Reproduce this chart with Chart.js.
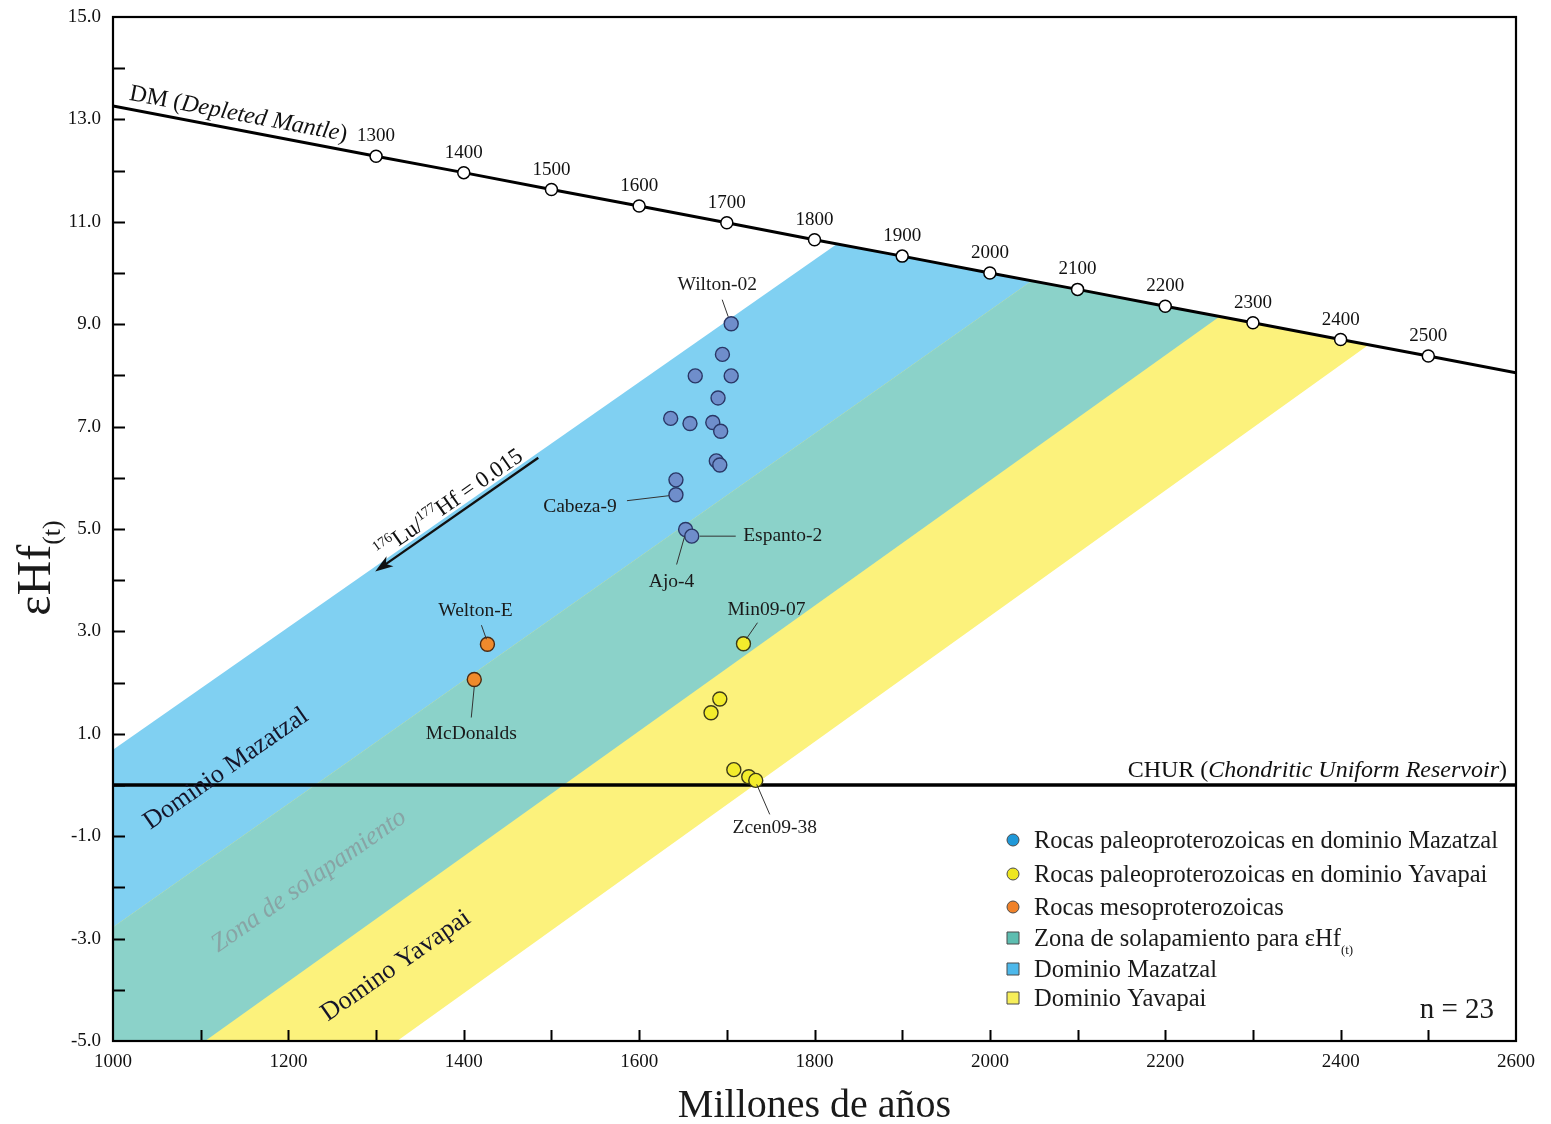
<!DOCTYPE html>
<html>
<head>
<meta charset="utf-8">
<script src="https://cdn.jsdelivr.net/npm/chart.js@4.4.1/dist/chart.umd.min.js"></script>
<style>
  html, body { margin: 0; padding: 0; background: #ffffff; }
  #wrap { width: 1551px; height: 1124px; position: relative; }
</style>
</head>
<body>
<div id="wrap"><canvas id="c" width="1551" height="1124"></canvas></div>
<script>
// ---- Samples: age (Ma) and εHf(t) ----
const mazatzalAges = [1705, 1695, 1664, 1705, 1690, 1636, 1658, 1684, 1693, 1688, 1692, 1642, 1642, 1653, 1660];
const mazatzalEhf  = [9.01, 8.41, 7.99, 7.99, 7.56, 7.16, 7.06, 7.08, 6.91, 6.33, 6.25, 5.96, 5.67, 4.99, 4.86];
const yavapaiAges  = [1719, 1692, 1682, 1708, 1725, 1733];
const yavapaiEhf   = [2.76, 1.68, 1.41, 0.30, 0.16, 0.09];
const mesoAges     = [1427, 1412];
const mesoEhf      = [2.75, 2.06];

// Named samples: name, group, index in that group
const labeledSamples = ['Wilton-02', 'Cabeza-9', 'Ajo-4', 'Espanto-2', 'Welton-E', 'McDonalds', 'Min09-07', 'Zcen09-38'];
const labeledGroup   = ['maz', 'maz', 'maz', 'maz', 'meso', 'meso', 'yav', 'yav'];
const labeledIndex   = [0, 12, 13, 14, 0, 1, 0, 5];

// ---- Depleted mantle evolution curve ----
const dmAges = [1000, 1300, 1400, 1500, 1600, 1700, 1800, 1900, 2000, 2100, 2200, 2300, 2400, 2500, 2600];
const dmEhf  = [13.26, 12.28, 11.96, 11.63, 11.31, 10.98, 10.65, 10.33, 10.00, 9.68, 9.35, 9.03, 8.70, 8.38, 8.05];
const dmMarkedAges = [1300, 1400, 1500, 1600, 1700, 1800, 1900, 2000, 2100, 2200, 2300, 2400, 2500];

// ---- CHUR reference ----
const churAges = [1000, 2600];
const churEhf  = [0, 0];

// ---- Crustal evolution bands (176Lu/177Hf = 0.015) ----
const mazatzalBandAges = [1000, 1826, 2262, 1105, 1000];
const mazatzalBandEhf  = [0.69, 10.57, 9.15, -5, -5];
const yavapaiBandAges  = [1000, 2048, 2432, 1324, 1000];
const yavapaiBandEhf   = [-2.78, 9.85, 8.60, -5, -5];
const overlapBandAges  = [1000, 2048, 2262, 1105, 1000];
const overlapBandEhf   = [-2.78, 9.85, 9.15, -5, -5];

// Evolution-trend arrow (tail, head)
const arrowAges = [1485, 1299];
const arrowEhf  = [6.39, 4.17];

// ---- Axis ticks ----
const xTickLabels = [1000, 1200, 1400, 1600, 1800, 2000, 2200, 2400, 2600];
const xMinorTicks = [1100, 1200, 1300, 1400, 1500, 1600, 1700, 1800, 1900, 2000, 2100, 2200, 2300, 2400, 2500];
const yTickLabels = [-5, -3, -1, 1, 3, 5, 7, 9, 11, 13, 15];
const yMinorTicks = [-4, -3, -2, -1, 0, 1, 2, 3, 4, 5, 6, 7, 8, 9, 10, 11, 12, 13, 14];

const sampleCount = 23;

// ---- helpers ----
const zip = (xs, ys) => xs.map((x, i) => ({ x, y: ys[i] }));
const SERIF = '"Liberation Serif", "Times New Roman", "DejaVu Serif", serif';
const fontOf = r => (r.italic ? 'italic ' : '') + r.size + 'px ' + SERIF;

function runsWidth(ctx, runs) {
  let w = 0;
  for (const r of runs) { ctx.font = fontOf(r); w += ctx.measureText(r.t).width; }
  return w;
}
function drawRuns(ctx, runs, x, y, align) {
  const w = runsWidth(ctx, runs);
  let cx = align === 'center' ? x - w / 2 : align === 'right' ? x - w : x;
  ctx.textAlign = 'left';
  ctx.textBaseline = 'alphabetic';
  for (const r of runs) {
    ctx.font = fontOf(r);
    ctx.fillText(r.t, cx, y + (r.dy || 0));
    cx += ctx.measureText(r.t).width;
  }
}

// Label placement for named samples (pixel offsets from the symbol)
const sampleLabelLayout = {
  'Wilton-02': { text: [-14, -39], from: [-9, -24], to: [-3, -7] },
  'Cabeza-9':  { text: [-96, 12],  from: [-49, 6],  to: [-7, 1] },
  'Espanto-2': { text: [91, 0],    from: [8, 0],    to: [44, 0] },
  'Ajo-4':     { text: [-14, 52],  from: [-9, 35],  to: [-1, 7] },
  'Welton-E':  { text: [-12, -33], from: [-6, -19], to: [-1, -5] },
  'Min09-07':  { text: [23, -34],  from: [14, -21], to: [3, -5] },
  'McDonalds': { text: [-3, 54],   from: [-3, 38],  to: [0, 7] },
  'Zcen09-38': { text: [19, 47],   from: [14, 34],  to: [1, 4] }
};

const groupData = {
  maz: [mazatzalAges, mazatzalEhf],
  yav: [yavapaiAges, yavapaiEhf],
  meso: [mesoAges, mesoEhf]
};

const decor = {
  id: 'decor',
  afterDatasetsDraw(chart) {
    const ctx = chart.ctx;
    const xs = chart.scales.x, ys = chart.scales.y;
    const a = chart.chartArea;
    const X = v => xs.getPixelForValue(v);
    const Y = v => ys.getPixelForValue(v);
    ctx.save();
    ctx.fillStyle = '#111';
    ctx.strokeStyle = '#111';

    // DM age labels
    ctx.font = '19px ' + SERIF;
    ctx.textAlign = 'center';
    ctx.textBaseline = 'middle';
    dmMarkedAges.forEach(t => {
      const i = dmAges.indexOf(t);
      ctx.fillText(String(t), X(t), Y(dmEhf[i]) - 20);
    });

    // DM curve title, along the curve
    {
      const x0 = X(dmAges[0]), y0 = Y(dmEhf[0]);
      const x1 = X(dmAges[dmAges.length - 1]), y1 = Y(dmEhf[dmEhf.length - 1]);
      const ang = Math.atan2(y1 - y0, x1 - x0);
      ctx.save();
      ctx.translate(x0, y0);
      ctx.rotate(ang);
      drawRuns(ctx, [
        { t: 'DM (', size: 24 },
        { t: 'Depleted Mantle', size: 24, italic: true },
        { t: ')', size: 24 }
      ], 14, -9, 'left');
      ctx.restore();
    }

    // CHUR title
    drawRuns(ctx, [
      { t: 'CHUR (', size: 24 },
      { t: 'Chondritic Uniform Reservoir', size: 24, italic: true },
      { t: ')', size: 24 }
    ], a.right - 9, Y(0) - 8, 'right');

    // Lu/Hf trend arrow
    {
      const tx = X(arrowAges[0]), ty = Y(arrowEhf[0]);
      const hx = X(arrowAges[1]), hy = Y(arrowEhf[1]);
      const ang = Math.atan2(hy - ty, hx - tx);
      const len = Math.hypot(hx - tx, hy - ty);
      ctx.save();
      ctx.translate(tx, ty);
      ctx.rotate(ang);
      ctx.lineWidth = 2.4;
      ctx.beginPath();
      ctx.moveTo(0, 0);
      ctx.lineTo(len - 12, 0);
      ctx.stroke();
      ctx.beginPath();
      ctx.moveTo(len, 0);
      ctx.lineTo(len - 18, -6);
      ctx.lineTo(len - 13, 0);
      ctx.lineTo(len - 18, 6);
      ctx.closePath();
      ctx.fill();
      ctx.restore();

      // label above the arrow, reading upward
      ctx.save();
      ctx.translate((tx + hx) / 2, (ty + hy) / 2);
      ctx.rotate(ang + Math.PI);
      drawRuns(ctx, [
        { t: '176', size: 14, dy: -9 },
        { t: 'Lu/', size: 23 },
        { t: '177', size: 14, dy: -9 },
        { t: 'Hf = 0.015', size: 23 }
      ], 0, -7, 'center');
      ctx.restore();
    }

    // Band names, rotated along the bands
    {
      const bx0 = X(arrowAges[1]), by0 = Y(arrowEhf[1]);
      const bx1 = X(arrowAges[0]), by1 = Y(arrowEhf[0]);
      const ang = Math.atan2(by1 - by0, bx1 - bx0);
      const bandText = (txt, cx, cy, opts) => {
        ctx.save();
        ctx.translate(cx, cy);
        ctx.rotate(ang);
        ctx.fillStyle = opts.color;
        ctx.font = (opts.italic ? 'italic ' : '') + opts.size + 'px ' + SERIF;
        ctx.textAlign = 'center';
        ctx.textBaseline = 'middle';
        ctx.fillText(txt, 0, 0);
        ctx.restore();
      };
      bandText('Dominio Mazatzal', 226, 769, { size: 26, color: '#15152a' });
      bandText('Zona de solapamiento', 309, 881, { size: 26, italic: true, color: 'rgba(135,148,152,0.75)' });
      bandText('Domino Yavapai', 396, 966, { size: 26, color: '#15152a' });
    }

    // Named samples with leader lines
    ctx.font = '19.5px ' + SERIF;
    ctx.textAlign = 'center';
    ctx.textBaseline = 'middle';
    ctx.lineWidth = 1;
    labeledSamples.forEach((name, k) => {
      const [ages, vals] = groupData[labeledGroup[k]];
      const px = X(ages[labeledIndex[k]]), py = Y(vals[labeledIndex[k]]);
      const L = sampleLabelLayout[name];
      ctx.strokeStyle = '#333';
      ctx.beginPath();
      ctx.moveTo(px + L.from[0], py + L.from[1]);
      ctx.lineTo(px + L.to[0], py + L.to[1]);
      ctx.stroke();
      ctx.fillStyle = '#1a1a1a';
      ctx.fillText(name, px + L.text[0], py + L.text[1]);
    });

    // Inward tick marks
    ctx.strokeStyle = '#000';
    ctx.lineWidth = 2;
    ctx.beginPath();
    yMinorTicks.forEach(v => { const y = Math.round(Y(v)) + 0.5; ctx.moveTo(a.left, y); ctx.lineTo(a.left + 12, y); });
    xMinorTicks.forEach(v => { const x = Math.round(X(v)) + 0.5; ctx.moveTo(x, a.bottom); ctx.lineTo(x, a.bottom - 11); });
    ctx.stroke();

    // Frame
    ctx.lineWidth = 2.2;
    ctx.strokeRect(a.left, a.top, a.right - a.left, a.bottom - a.top);

    // Legend
    const lgX = 1013, lgTx = 1034;
    const lgRows = [840, 874, 907, 938, 969, 998];
    const LG = 24.5;
    const lgItems = [
      { kind: 'circle', fill: '#1f98d8', runs: [{ t: 'Rocas paleoproterozoicas en dominio Mazatzal', size: LG }] },
      { kind: 'circle', fill: '#eee620', runs: [{ t: 'Rocas paleoproterozoicas en dominio Yavapai', size: LG }] },
      { kind: 'circle', fill: '#f0822a', runs: [{ t: 'Rocas mesoproterozoicas', size: LG }] },
      { kind: 'square', fill: '#5dbdb0', runs: [{ t: 'Zona de solapamiento para εHf', size: LG }, { t: '(t)', size: 13, dy: 8 }] },
      { kind: 'square', fill: '#4db8ea', runs: [{ t: 'Dominio Mazatzal', size: LG }] },
      { kind: 'square', fill: '#f6ee5a', runs: [{ t: 'Dominio Yavapai', size: LG }] }
    ];
    lgItems.forEach((it, i) => {
      const cy = lgRows[i];
      ctx.fillStyle = it.fill;
      ctx.strokeStyle = '#4a4a4a';
      ctx.lineWidth = 1;
      ctx.beginPath();
      if (it.kind === 'circle') ctx.arc(lgX, cy, 6, 0, Math.PI * 2);
      else ctx.rect(lgX - 6, cy - 6, 12, 12);
      ctx.fill();
      ctx.stroke();
      ctx.fillStyle = '#1a1a1a';
      drawRuns(ctx, it.runs, lgTx, cy + 8, 'left');
    });
    ctx.fillStyle = '#1a1a1a';
    drawRuns(ctx, [{ t: 'n = ' + sampleCount, size: 29 }], 1494, 1018, 'right');

    // Axis titles
    drawRuns(ctx, [{ t: 'Millones de años', size: 40 }], (a.left + a.right) / 2, 1117, 'center');
    ctx.save();
    ctx.translate(50, 568);
    ctx.rotate(-Math.PI / 2);
    drawRuns(ctx, [{ t: 'εHf', size: 48 }, { t: '(t)', size: 26, dy: 10 }], 0, 0, 'center');
    ctx.restore();

    ctx.restore();
  }
};

const pointStyle = (fill, border) => ({
  pointRadius: 7, pointHoverRadius: 7, pointBackgroundColor: fill,
  pointBorderColor: border, pointBorderWidth: 1.4, showLine: false
});

// Axes keep a fixed size so the plotting frame stays put
const fixY = s => { s.width = 113; s.paddingTop = 0; s.paddingBottom = 0; };
const fixX = s => { s.height = 83; s.paddingLeft = 0; s.paddingRight = 0; };

new Chart(document.getElementById('c'), {
  type: 'scatter',
  data: {
    datasets: [
      { label: 'Rocas paleoproterozoicas en dominio Mazatzal', data: zip(mazatzalAges, mazatzalEhf), order: 0, ...pointStyle('#6f8ecb', '#2a3766') },
      { label: 'Rocas paleoproterozoicas en dominio Yavapai', data: zip(yavapaiAges, yavapaiEhf), order: 0, ...pointStyle('#f3ec2c', '#3c3a18') },
      { label: 'Rocas mesoproterozoicas', data: zip(mesoAges, mesoEhf), order: 0, ...pointStyle('#f08a2c', '#4a2a12') },
      { label: 'DM', data: zip(dmAges, dmEhf), order: 1, showLine: true, borderColor: '#000', borderWidth: 3,
        pointRadius: c => (c.dataIndex === 0 || c.dataIndex === dmAges.length - 1) ? 0 : 6,
        pointBackgroundColor: '#fff', pointBorderColor: '#000', pointBorderWidth: 1.5, fill: false },
      { label: 'CHUR', data: zip(churAges, churEhf), order: 1, showLine: true, borderColor: '#000', borderWidth: 3.4, pointRadius: 0, fill: false },
      { label: 'Zona de solapamiento', data: zip(overlapBandAges, overlapBandEhf), order: 2, showLine: true, borderWidth: 0, borderColor: 'rgba(0,0,0,0)', pointRadius: 0, fill: 'shape', backgroundColor: '#8bd2c9' },
      { label: 'Dominio Yavapai', data: zip(yavapaiBandAges, yavapaiBandEhf), order: 3, showLine: true, borderWidth: 0, borderColor: 'rgba(0,0,0,0)', pointRadius: 0, fill: 'shape', backgroundColor: '#fcf27c' },
      { label: 'Dominio Mazatzal', data: zip(mazatzalBandAges, mazatzalBandEhf), order: 4, showLine: true, borderWidth: 0, borderColor: 'rgba(0,0,0,0)', pointRadius: 0, fill: 'shape', backgroundColor: '#80d0f2' }
    ]
  },
  options: {
    responsive: false,
    animation: false,
    layout: { padding: { top: 17, right: 35, left: 0, bottom: 0 } },
    plugins: { legend: { display: false }, tooltip: { enabled: false } },
    scales: {
      x: {
        type: 'linear', min: 1000, max: 2600,
        afterBuildTicks: s => { s.ticks = xTickLabels.map(v => ({ value: v })); },
        afterFit: fixX,
        ticks: { autoSkip: false, maxRotation: 0, padding: 10, color: '#111', font: { family: SERIF, size: 19 }, callback: v => String(v) },
        grid: { display: false, drawTicks: false },
        border: { display: false }
      },
      y: {
        type: 'linear', min: -5, max: 15,
        afterBuildTicks: s => { s.ticks = yTickLabels.map(v => ({ value: v })); },
        afterFit: fixY,
        ticks: { autoSkip: false, padding: 12, color: '#111', font: { family: SERIF, size: 19 }, callback: v => Number(v).toFixed(1) },
        grid: { display: false, drawTicks: false },
        border: { display: false }
      }
    }
  },
  plugins: [decor]
});
</script>
</body>
</html>
